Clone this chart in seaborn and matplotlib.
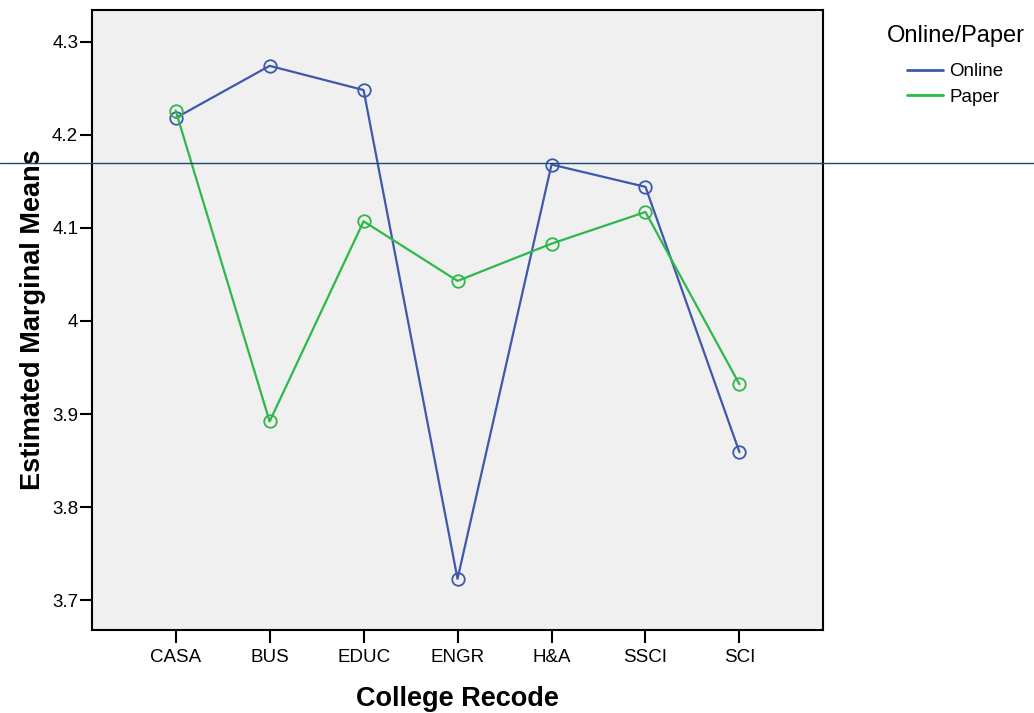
import pandas as pd
import numpy as np
import matplotlib
matplotlib.use("Agg")
import matplotlib.pyplot as plt
import matplotlib.transforms as mtransforms
from matplotlib.lines import Line2D
import seaborn as sns

# --- data ---
colleges = ["CASA", "BUS", "EDUC", "ENGR", "H&A", "SSCI", "SCI"]
online_means = [4.218, 4.274, 4.248, 3.723, 4.168, 4.144, 3.859]
paper_means = [4.226, 3.892, 4.107, 4.043, 4.083, 4.117, 3.932]
groups = ["Online", "Paper"]
ref_line = 4.17
y_ticks = [3.7, 3.8, 3.9, 4.0, 4.1, 4.2, 4.3]
y_tick_labels = ["3.7", "3.8", "3.9", "4", "4.1", "4.2", "4.3"]

df = pd.DataFrame({
    "College Recode": colleges * 2,
    "Mean": online_means + paper_means,
    "Online/Paper": ["Online"] * len(colleges) + ["Paper"] * len(colleges),
})

# --- style ---
sns.set_style("ticks")
plt.rcParams["font.family"] = ["Liberation Sans", "DejaVu Sans"]
plt.rcParams["text.color"] = "black"
plt.rcParams["axes.labelcolor"] = "black"
plt.rcParams["xtick.color"] = "black"
plt.rcParams["ytick.color"] = "black"
palette = {"Online": "#3E58AC", "Paper": "#2EB848"}

fig = plt.figure(figsize=(10.34, 7.13), dpi=100)
ax = fig.add_axes([0.089, 0.1164, 0.707, 0.8696])
ax.set_facecolor("#F0F0F0")

sns.lineplot(data=df, x="College Recode", y="Mean", hue="Online/Paper",
             palette=palette, marker="o", markersize=9, markerfacecolor="none",
             linewidth=1.6, sort=False, legend=False, ax=ax)
for line in ax.lines:
    line.set_markeredgecolor(line.get_color())
    line.set_markeredgewidth(1.3)

# grand-mean style reference line running across the whole figure
trans = mtransforms.blended_transform_factory(fig.transFigure, ax.transData)
fig.add_artist(Line2D([0, 1], [ref_line, ref_line], transform=trans,
                      color="#1A4A78", linewidth=1.0))

ax.set_xlim(-0.89, 6.89)
ax.set_ylim(3.668, 4.334)
ax.set_yticks(y_ticks)
ax.set_yticklabels(y_tick_labels)

for side in ["top", "right", "left", "bottom"]:
    ax.spines[side].set_visible(True)
    ax.spines[side].set_linewidth(1.5)
    ax.spines[side].set_color("black")
ax.tick_params(axis="both", length=9, width=1.5, labelsize=13.5)
ax.tick_params(axis="x", pad=5)
ax.tick_params(axis="y", pad=1)

ax.set_xlabel("College Recode", fontsize=19.5, fontweight="bold", labelpad=14)
ax.set_ylabel("Estimated Marginal Means", fontsize=19.5, fontweight="bold", labelpad=4)

handles = [Line2D([0], [0], color=palette[g], linewidth=2) for g in groups]
leg = fig.legend(handles, groups, title="Online/Paper", loc="upper left",
                 bbox_to_anchor=(0.841, 0.978), frameon=False, fontsize=13.5,
                 title_fontsize=17, handlelength=1.9, handletextpad=0.35,
                 labelspacing=0.45)
leg.get_title().set_position((0, 8))

fig.savefig("out.png", dpi=100)
